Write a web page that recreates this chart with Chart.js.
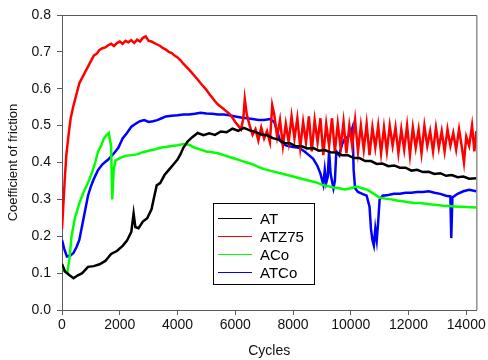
<!DOCTYPE html>
<html>
<head>
<meta charset="utf-8">
<script src="https://cdn.jsdelivr.net/npm/chart.js@4.4.0/dist/chart.umd.min.js"></script>
<style>
  html, body { margin: 0; padding: 0; background: #fff; }
  #wrap { width: 488px; height: 360px; }
</style>
</head>
<body>
<div id="wrap"><canvas id="chart" width="488" height="360"></canvas></div>
<script>
// values
const seriesLabels = ["AT", "ATZ75", "ACo", "ATCo"];
const seriesColors = ["#000000", "#ff0000", "#00ff00", "#0000ff"];

const atCycles = [0, 100, 250, 400, 550, 700, 900, 1100, 1300, 1500, 1700, 1900, 2100, 2250, 2400, 2480, 2540, 2650, 2800, 2950, 3100, 3200, 3280, 3400, 3550, 3700, 3850, 4000, 4100, 4200, 4350, 4500, 4700, 4900, 5100, 5300, 5500, 5700, 5900, 6100, 6300, 6500, 6700, 6900, 7100, 7300, 7500, 7700, 7900, 8100, 8300, 8500, 8700, 8900, 9100, 9300, 9500, 9700, 9900, 10100, 10300, 10500, 10700, 10900, 11100, 11300, 11500, 11700, 11900, 12100, 12300, 12500, 12700, 12900, 13100, 13300, 13500, 13700, 13900, 14100, 14350];
const atCof = [0.125, 0.105, 0.095, 0.086, 0.094, 0.100, 0.117, 0.119, 0.124, 0.133, 0.152, 0.160, 0.174, 0.188, 0.212, 0.262, 0.225, 0.222, 0.240, 0.249, 0.273, 0.310, 0.338, 0.344, 0.366, 0.380, 0.394, 0.408, 0.422, 0.440, 0.457, 0.468, 0.480, 0.474, 0.479, 0.475, 0.484, 0.482, 0.492, 0.486, 0.494, 0.487, 0.483, 0.476, 0.474, 0.466, 0.462, 0.453, 0.452, 0.444, 0.444, 0.438, 0.439, 0.432, 0.434, 0.428, 0.427, 0.420, 0.420, 0.412, 0.412, 0.404, 0.404, 0.396, 0.397, 0.390, 0.392, 0.386, 0.386, 0.378, 0.380, 0.374, 0.375, 0.369, 0.371, 0.364, 0.366, 0.360, 0.362, 0.356, 0.357];

const atz75Cycles = [0, 50, 100, 150, 220, 300, 400, 500, 600, 700, 800, 900, 1000, 1100, 1200, 1300, 1400, 1500, 1600, 1700, 1800, 1900, 2000, 2100, 2200, 2300, 2400, 2500, 2600, 2700, 2800, 2900, 3000, 3100, 3200, 3300, 3400, 3500, 3600, 3700, 3800, 3900, 4000, 4100, 4200, 4300, 4400, 4500, 4600, 4700, 4800, 4900, 5000, 5100, 5200, 5300, 5400, 5500, 5600, 5700, 5800, 5900, 6000, 6100, 6200, 6280, 6330, 6400, 6500, 6600, 6700, 6800, 6900, 7000, 7100, 7200, 7280, 7350, 7450, 7550, 7650, 7750, 7850, 7950, 8050, 8150, 8250, 8350, 8450, 8550, 8650, 8750, 8850, 8950, 9050, 9150, 9250, 9350, 9450, 9550, 9650, 9750, 9850, 9950, 10050, 10150, 10250, 10350, 10450, 10550, 10650, 10750, 10850, 10950, 11050, 11150, 11250, 11350, 11450, 11550, 11650, 11750, 11850, 11950, 12050, 12150, 12250, 12350, 12450, 12550, 12650, 12750, 12850, 12950, 13050, 13150, 13250, 13350, 13450, 13550, 13650, 13750, 13850, 13920, 14000, 14100, 14200, 14280, 14350];
const atz75Cof = [0.22, 0.29, 0.36, 0.42, 0.47, 0.52, 0.555, 0.585, 0.615, 0.63, 0.645, 0.66, 0.675, 0.69, 0.695, 0.705, 0.71, 0.712, 0.718, 0.722, 0.716, 0.724, 0.728, 0.722, 0.73, 0.726, 0.732, 0.724, 0.733, 0.728, 0.738, 0.742, 0.73, 0.728, 0.724, 0.72, 0.716, 0.71, 0.706, 0.70, 0.697, 0.69, 0.685, 0.678, 0.668, 0.66, 0.652, 0.643, 0.634, 0.625, 0.615, 0.606, 0.597, 0.586, 0.576, 0.566, 0.557, 0.551, 0.545, 0.538, 0.532, 0.522, 0.51, 0.50, 0.49, 0.52, 0.572, 0.53, 0.50, 0.475, 0.49, 0.46, 0.495, 0.465, 0.485, 0.455, 0.555, 0.53, 0.47, 0.515, 0.445, 0.505, 0.455, 0.525, 0.465, 0.52, 0.44, 0.51, 0.455, 0.525, 0.43, 0.515, 0.455, 0.52, 0.42, 0.505, 0.445, 0.52, 0.43, 0.505, 0.44, 0.51, 0.425, 0.50, 0.445, 0.515, 0.43, 0.50, 0.435, 0.505, 0.42, 0.495, 0.44, 0.50, 0.425, 0.495, 0.43, 0.50, 0.445, 0.495, 0.425, 0.49, 0.435, 0.50, 0.42, 0.495, 0.44, 0.49, 0.425, 0.50, 0.445, 0.485, 0.43, 0.495, 0.44, 0.485, 0.43, 0.49, 0.445, 0.48, 0.435, 0.49, 0.44, 0.40, 0.47, 0.445, 0.50, 0.43, 0.485];

const acoCycles = [0, 80, 180, 260, 330, 450, 600, 750, 900, 1050, 1150, 1250, 1350, 1450, 1550, 1620, 1700, 1740, 1790, 1850, 2000, 2200, 2400, 2600, 2800, 3000, 3200, 3400, 3600, 3800, 4000, 4200, 4400, 4600, 4800, 5000, 5200, 5400, 5600, 5800, 6000, 6200, 6400, 6600, 6800, 7000, 7200, 7400, 7600, 7800, 8000, 8200, 8400, 8600, 8800, 9000, 9200, 9400, 9600, 9800, 10000, 10200, 10400, 10600, 10800, 11000, 11200, 11400, 11600, 11800, 12000, 12200, 12400, 12600, 12800, 13000, 13200, 13400, 13600, 13800, 14000, 14350];
const acoCof = [0.12, 0.105, 0.10, 0.14, 0.20, 0.25, 0.29, 0.32, 0.345, 0.375, 0.40, 0.43, 0.445, 0.465, 0.475, 0.48, 0.445, 0.30, 0.38, 0.405, 0.412, 0.418, 0.42, 0.422, 0.428, 0.432, 0.435, 0.44, 0.442, 0.445, 0.447, 0.45, 0.448, 0.44, 0.435, 0.43, 0.428, 0.425, 0.42, 0.415, 0.41, 0.405, 0.40, 0.395, 0.388, 0.382, 0.378, 0.374, 0.37, 0.366, 0.362, 0.358, 0.354, 0.35, 0.346, 0.34, 0.336, 0.332, 0.33, 0.327, 0.33, 0.335, 0.33, 0.325, 0.315, 0.305, 0.302, 0.30, 0.297, 0.295, 0.292, 0.29, 0.29, 0.288, 0.286, 0.285, 0.283, 0.282, 0.281, 0.28, 0.279, 0.278];

const atcoCycles = [0, 80, 170, 300, 400, 500, 600, 700, 800, 900, 1000, 1100, 1250, 1400, 1600, 1800, 1950, 2100, 2250, 2400, 2550, 2700, 2850, 3000, 3150, 3300, 3450, 3600, 3800, 4000, 4200, 4400, 4600, 4800, 5000, 5200, 5400, 5600, 5800, 6000, 6200, 6400, 6600, 6800, 7000, 7200, 7350, 7450, 7550, 7650, 7800, 8000, 8200, 8400, 8550, 8700, 8850, 8950, 9050, 9100, 9150, 9200, 9250, 9300, 9400, 9450, 9500, 9600, 9700, 9800, 9900, 10000, 10060, 10100, 10150, 10250, 10400, 10550, 10650, 10700, 10750, 10800, 10850, 10900, 10950, 11000, 11100, 11300, 11500, 11700, 11900, 12100, 12300, 12500, 12700, 12900, 13100, 13300, 13450, 13480, 13520, 13700, 13900, 14100, 14350];
const atcoCof = [0.19, 0.165, 0.145, 0.148, 0.155, 0.17, 0.19, 0.23, 0.27, 0.31, 0.335, 0.355, 0.38, 0.395, 0.408, 0.425, 0.44, 0.465, 0.48, 0.497, 0.505, 0.512, 0.515, 0.51, 0.512, 0.515, 0.52, 0.525, 0.527, 0.528, 0.53, 0.53, 0.532, 0.535, 0.533, 0.532, 0.53, 0.53, 0.528, 0.525, 0.522, 0.52, 0.518, 0.515, 0.515, 0.518, 0.51, 0.485, 0.46, 0.45, 0.445, 0.442, 0.44, 0.43, 0.42, 0.41, 0.39, 0.37, 0.34, 0.38, 0.345, 0.36, 0.43, 0.37, 0.33, 0.35, 0.43, 0.42, 0.45, 0.465, 0.47, 0.48, 0.495, 0.38, 0.33, 0.32, 0.315, 0.31, 0.28, 0.22, 0.19, 0.175, 0.22, 0.19, 0.24, 0.30, 0.31, 0.312, 0.315, 0.315, 0.318, 0.318, 0.32, 0.32, 0.322, 0.318, 0.315, 0.31, 0.308, 0.195, 0.305, 0.315, 0.322, 0.326, 0.322];

const xTicks = [0, 2000, 4000, 6000, 8000, 10000, 12000, 14000];
const yTicks = [0, 0.1, 0.2, 0.3, 0.4, 0.5, 0.6, 0.7, 0.8];

const allCycles = [atCycles, atz75Cycles, acoCycles, atcoCycles];
const allCof = [atCof, atz75Cof, acoCof, atcoCof];

const datasets = seriesLabels.map((label, i) => ({
  label,
  data: allCycles[i].map((c, j) => ({ x: c, y: allCof[i][j] })),
  borderColor: seriesColors[i],
  borderWidth: 2.5,
  pointRadius: 0,
  tension: 0,
  fill: false,
}));

const axisColor = "#5a5a5a";
const font = { family: "'Liberation Sans', Arial, sans-serif", size: 14 };

// frame on top/right and legend box inside the plot
const framePlugin = {
  id: "frame",
  afterDraw(chart) {
    const { ctx, chartArea: a } = chart;
    ctx.save();
    ctx.strokeStyle = axisColor;
    ctx.lineWidth = 1;
    ctx.beginPath();
    ctx.moveTo(a.left, a.top + 0.5);
    ctx.lineTo(a.right + 0.5, a.top + 0.5);
    ctx.lineTo(a.right + 0.5, a.bottom);
    ctx.stroke();

    const bx = 213.5, by = 203.5, bw = 101, bh = 81;
    ctx.fillStyle = "#fff";
    ctx.fillRect(bx, by, bw, bh);
    ctx.strokeStyle = "#000";
    ctx.strokeRect(bx, by, bw, bh);
    ctx.font = "15px 'Liberation Sans', Arial, sans-serif";
    ctx.textBaseline = "middle";
    chart.data.datasets.forEach((ds, i) => {
      const y = 218.5 + i * 18;
      ctx.strokeStyle = ds.borderColor;
      ctx.lineWidth = 1;
      ctx.beginPath();
      ctx.moveTo(218, y);
      ctx.lineTo(252, y);
      ctx.stroke();
      ctx.fillStyle = "#000";
      ctx.fillText(ds.label, 260, y + 1);
    });
    ctx.restore();
  },
};

new Chart(document.getElementById("chart"), {
  type: "line",
  data: { datasets },
  options: {
    responsive: false,
    animation: false,
    layout: { padding: { top: 15, right: 11, left: 0, bottom: 0 } },
    plugins: { legend: { display: false }, tooltip: { enabled: false } },
    scales: {
      x: {
        type: "linear",
        min: 0,
        max: 14350,
        afterBuildTicks: (s) => { s.ticks = xTicks.map((v) => ({ value: v })); },
        afterFit: (s) => { s.height = 50; },
        grid: { drawOnChartArea: false, color: axisColor, tickLength: 5 },
        border: { color: axisColor },
        ticks: { color: "#111", font, padding: 2, maxRotation: 0, callback: (v) => String(v) },
        title: { display: true, text: "Cycles", color: "#111", font, padding: { top: 0, bottom: 0 } },
      },
      y: {
        min: 0,
        max: 0.8,
        afterBuildTicks: (s) => { s.ticks = yTicks.map((v) => ({ value: v })); },
        afterFit: (s) => { s.width = 62; },
        grid: { drawOnChartArea: false, color: axisColor, tickLength: 5 },
        border: { color: axisColor },
        ticks: { color: "#111", font, padding: 6, callback: (v) => Number(v).toFixed(1) },
        title: { display: true, text: "Coefficient of friction", color: "#111", font: { family: font.family, size: 13 }, padding: { top: 6, bottom: 0 } },
      },
    },
  },
  plugins: [framePlugin],
});
</script>
</body>
</html>
